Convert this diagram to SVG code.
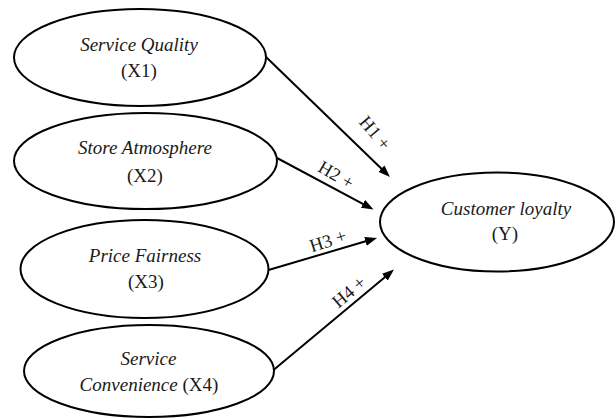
<svg xmlns="http://www.w3.org/2000/svg" width="616" height="418" viewBox="0 0 616 418">
  <style>
    .node { fill: #ffffff; stroke: #000000; stroke-width: 2; }
    .lbl { font-family: "Liberation Serif", "Times New Roman", serif; font-size: 19px; fill: #1a1a1a; text-anchor: middle; }
    .it { font-style: italic; }
    .edge { stroke: #000000; stroke-width: 2; fill: none; marker-end: url(#arrow); }
    .hyp { font-family: "Liberation Serif", "Times New Roman", serif; font-size: 18.5px; fill: #1a1a1a; text-anchor: middle; dominant-baseline: central; }
  </style>
  <defs>
    <marker id="arrow" markerUnits="userSpaceOnUse" markerWidth="14" markerHeight="10" refX="2" refY="4.5" orient="auto">
      <path d="M0,0 L12,4.5 L0,9 z" fill="#000000"/>
    </marker>
  </defs>
  <rect width="616" height="418" fill="#ffffff"/>

  <g id="connectors">
    <line class="edge" x1="265" y1="56" x2="382.8" y2="170.0"/>
    <line class="edge" x1="277" y1="158" x2="364.7" y2="204.8"/>
    <line class="edge" x1="268.5" y1="270" x2="367.4" y2="240.8"/>
    <line class="edge" x1="273.5" y1="370" x2="386.3" y2="275.9"/>
    <text class="hyp" transform="translate(375,133) rotate(50)">H1 +</text>
    <text class="hyp" transform="translate(336,175) rotate(30)">H2 +</text>
    <text class="hyp" transform="translate(328,241) rotate(-18)">H3 +</text>
    <text class="hyp" transform="translate(349,292) rotate(-40)">H4 +</text>
  </g>

  <g id="service-quality">
    <ellipse class="node" cx="140" cy="57.5" rx="126" ry="48.5"/>
    <text class="lbl it" x="139" y="51">Service Quality</text>
    <text class="lbl" x="139" y="77">(X1)</text>
  </g>

  <g id="store-atmosphere">
    <ellipse class="node" cx="145.5" cy="161" rx="131.5" ry="48"/>
    <text class="lbl it" x="145" y="154">Store Atmosphere</text>
    <text class="lbl" x="145" y="181.5">(X2)</text>
  </g>

  <g id="price-fairness">
    <ellipse class="node" cx="144.5" cy="269" rx="124" ry="49"/>
    <text class="lbl it" x="145" y="261.5">Price Fairness</text>
    <text class="lbl" x="146" y="287.5">(X3)</text>
  </g>

  <g id="service-convenience">
    <ellipse class="node" cx="149" cy="371" rx="125" ry="46"/>
    <text class="lbl it" x="148.5" y="365">Service</text>
    <text class="lbl" x="149" y="390.5"><tspan class="it">Convenience</tspan> (X4)</text>
  </g>

  <g id="customer-loyalty">
    <ellipse class="node" cx="497" cy="222" rx="117" ry="49.5"/>
    <text class="lbl it" x="506" y="215">Customer loyalty</text>
    <text class="lbl" x="505" y="240">(Y)</text>
  </g>
</svg>
